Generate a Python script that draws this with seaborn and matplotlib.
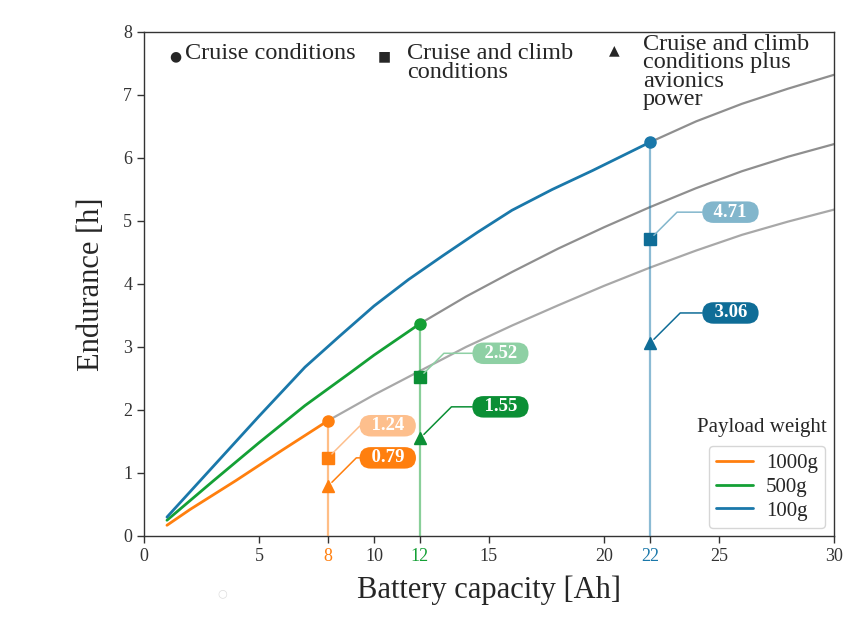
import matplotlib
matplotlib.use("Agg")
import matplotlib.pyplot as plt
import seaborn as sns
import pandas as pd

# ---------------- data ----------------
payloads = ["1000g", "500g", "100g"]
line_colors = ["#ff7f0e", "#14a035", "#1a78aa"]
light_colors = ["#fdbf8d", "#8ed0a4", "#82b6cc"]
dark_colors = ["#ff7f0e", "#0b8f35", "#0f6d97"]

cap_1000 = [1, 2, 4, 6, 8]
end_1000 = [0.17, 0.42, 0.88, 1.36, 1.83]
cap_500 = [1, 3, 5, 7, 9, 10, 12]
end_500 = [0.25, 0.87, 1.48, 2.07, 2.6, 2.87, 3.37]
cap_100 = [1, 3, 5, 7, 8.5, 10, 11.5, 13, 14.5, 16, 17.75, 19.5, 22]
end_100 = [0.3, 1.1, 1.9, 2.68, 3.17, 3.65, 4.07, 4.45, 4.82, 5.17, 5.5, 5.8, 6.25]

# gray continuations beyond each battery capacity
ext_cap_1000 = [8, 10, 12, 14, 16, 18, 20, 22, 24, 26, 28, 30]
ext_end_1000 = [1.83, 2.24, 2.62, 3.0, 3.34, 3.66, 3.97, 4.26, 4.53, 4.78, 4.99, 5.18]
ext_cap_500 = [12, 14, 16, 18, 20, 22, 24, 26, 28, 30]
ext_end_500 = [3.37, 3.8, 4.19, 4.56, 4.9, 5.22, 5.52, 5.79, 6.02, 6.22]
ext_cap_100 = [22, 24, 26, 28, 30]
ext_end_100 = [6.25, 6.58, 6.86, 7.1, 7.32]

capacities = [8, 12, 22]
cruise = [1.83, 3.37, 6.25]
climb = [1.24, 2.52, 4.71]
avionics = [0.79, 1.55, 3.06]

x_ticks = [0, 5, 8, 10, 12, 15, 20, 22, 25, 30]
y_ticks = [0, 1, 2, 3, 4, 5, 6, 7, 8]

# label box positions (layout)
label_x = [10.6, 15.5, 25.5]
climb_label_y = [1.75, 2.9, 5.14]
avio_label_y = [1.24, 2.05, 3.54]

# ---------------- style ----------------
sns.set_style("ticks")
plt.rcParams["font.family"] = ["Liberation Serif", "DejaVu Sans"]
plt.rcParams["axes.edgecolor"] = "#333333"
plt.rcParams["xtick.color"] = "#333333"
plt.rcParams["ytick.color"] = "#333333"

fig = plt.figure(figsize=(8.61, 6.21), dpi=100)
ax = fig.add_axes([0.1672, 0.1369, 0.8014, 0.8116])

df = pd.concat([
    pd.DataFrame({"cap": cap_1000, "end": end_1000, "Payload": "1000g"}),
    pd.DataFrame({"cap": cap_500, "end": end_500, "Payload": "500g"}),
    pd.DataFrame({"cap": cap_100, "end": end_100, "Payload": "100g"}),
])
ext_sets = [(ext_cap_1000, ext_end_1000, "#a8a8a8"),
            (ext_cap_500, ext_end_500, "#8f8f8f"),
            (ext_cap_100, ext_end_100, "#8f8f8f")]
for xs, ys, c in ext_sets:
    sns.lineplot(x=xs, y=ys, ax=ax, color=c, lw=1.6, legend=False)

sns.lineplot(data=df, x="cap", y="end", hue="Payload", hue_order=payloads,
             palette=line_colors, lw=2, ax=ax, sort=False)

for i in range(3):
    ax.vlines(capacities[i], 0, cruise[i], color=line_colors[i], alpha=0.5, lw=1.6, zorder=3)
    ax.plot(capacities[i], cruise[i], "o", color=line_colors[i], ms=8, zorder=5)
    ax.plot(capacities[i], climb[i], "s", color=dark_colors[i], ms=8, zorder=5)
    ax.plot(capacities[i], avionics[i], "^", color=dark_colors[i], ms=9, zorder=5)
    for val, ly, col in [(climb[i], climb_label_y[i], light_colors[i]),
                         (avionics[i], avio_label_y[i], dark_colors[i])]:
        ax.annotate(f"  {val:.2f}  ", xy=(capacities[i], val), xytext=(label_x[i], ly),
                    ha="center", va="center", color="white", fontsize=13.5, fontweight="bold",
                    bbox=dict(boxstyle="round,pad=0.12,rounding_size=0.6", fc=col, ec="none"),
                    arrowprops=dict(arrowstyle="-", color=col, lw=1.1,
                                    connectionstyle="angle,angleA=0,angleB=45,rad=0",
                                    shrinkA=0, shrinkB=4),
                    zorder=6)

ax.set_xlim(0, 30)
ax.set_ylim(0, 8)
ax.set_xticks(x_ticks)
ax.set_yticks(y_ticks)
ax.set_xticklabels([str(t) for t in x_ticks])
ax.tick_params(labelsize=13, length=5, width=1)
tick_colors = {8: line_colors[0], 12: line_colors[1], 22: line_colors[2]}
for t, lab in zip(x_ticks, ax.get_xticklabels()):
    if t in tick_colors:
        lab.set_color(tick_colors[t])
for sp in ax.spines.values():
    sp.set_visible(True)
    sp.set_linewidth(1.0)

ax.set_xlabel("Battery capacity [Ah]", fontsize=22, labelpad=8)
ax.set_ylabel("Endurance [h]", fontsize=22, labelpad=12)

# marker key at top
ax.text(0.046, 0.952, "●", transform=ax.transAxes, fontsize=10, ha="center", va="center",
        family="DejaVu Sans")
ax.text(0.059, 0.978, "Cruise conditions", transform=ax.transAxes, fontsize=17.5,
        ha="left", va="top", linespacing=0.84)
ax.text(0.348, 0.952, "■", transform=ax.transAxes, fontsize=10, ha="center", va="center",
        family="DejaVu Sans")
ax.text(0.381, 0.978, "Cruise and climb\nconditions", transform=ax.transAxes, fontsize=17.5,
        ha="left", va="top", linespacing=0.84)
ax.text(0.681, 0.963, "▲", transform=ax.transAxes, fontsize=10, ha="center", va="center",
        family="DejaVu Sans")
ax.text(0.723, 0.996, "Cruise and climb\nconditions plus\navionics\npower",
        transform=ax.transAxes, fontsize=17.5, ha="left", va="top", linespacing=0.84)

# legend
handles, labels = ax.get_legend_handles_labels()
keep = [(h, l) for h, l in zip(handles, labels) if l in payloads]
leg = ax.legend([h for h, _ in keep], [l for _, l in keep], loc="lower right",
                bbox_to_anchor=(0.987, 0.016), borderaxespad=0, fontsize=15,
                labelspacing=0.2, handlelength=1.8, frameon=True, borderpad=0.35,
                handletextpad=0.6)
leg.get_frame().set_edgecolor("#cccccc")
ax.text(0.896, 0.216, "Payload weight", transform=ax.transAxes, fontsize=15,
        ha="center", va="center")

fig.text(0.258, 0.045, "○", fontsize=8, color="#dddddd", ha="center", va="center",
         family="DejaVu Sans")

fig.savefig("out.png", dpi=100)
